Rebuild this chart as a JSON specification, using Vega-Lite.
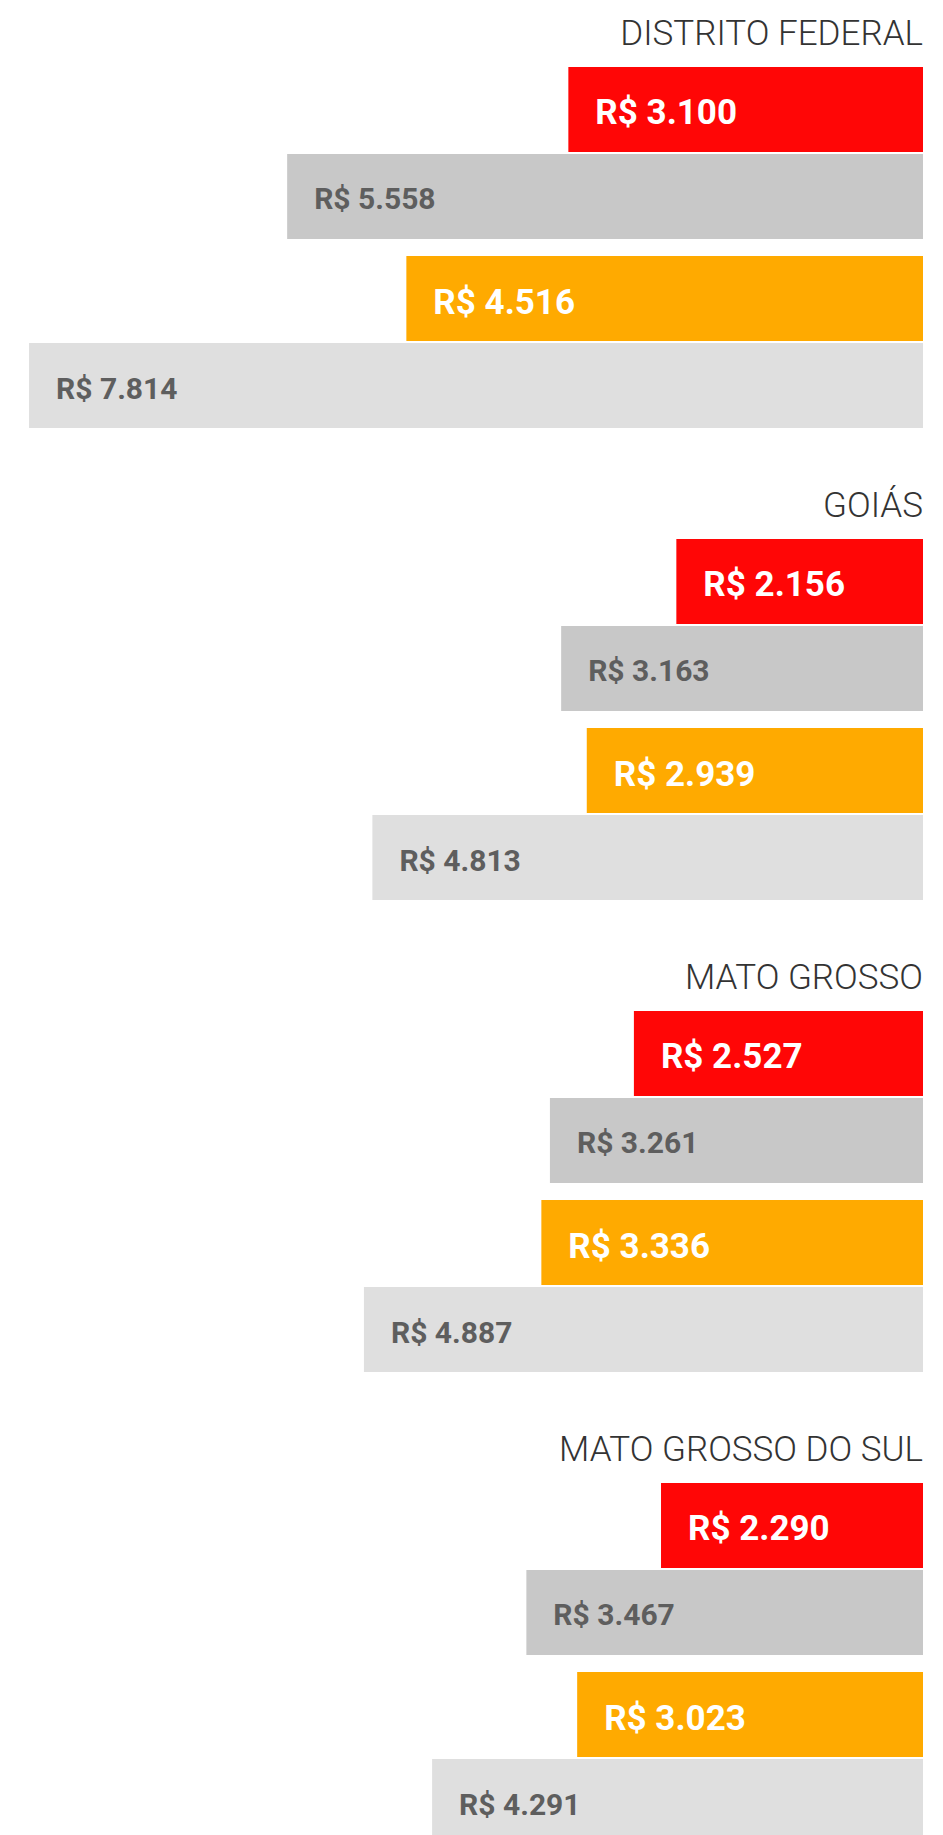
{
  "$schema": "https://vega.github.io/schema/vega-lite/v6.json",
  "background": "white",
  "padding": {"left": 0, "top": 17, "right": 0, "bottom": 0},
  "data": {"values": [
    {"estado": "DISTRITO FEDERAL", "grupo": "1", "tipo": "destaque", "serie": "s1", "valor": 3100},
    {"estado": "DISTRITO FEDERAL", "grupo": "1", "tipo": "referencia", "serie": "s2", "valor": 5558},
    {"estado": "DISTRITO FEDERAL", "grupo": "2", "tipo": "destaque", "serie": "s3", "valor": 4516},
    {"estado": "DISTRITO FEDERAL", "grupo": "2", "tipo": "referencia", "serie": "s4", "valor": 7814},
    {"estado": "GOIÁS", "grupo": "1", "tipo": "destaque", "serie": "s1", "valor": 2156},
    {"estado": "GOIÁS", "grupo": "1", "tipo": "referencia", "serie": "s2", "valor": 3163},
    {"estado": "GOIÁS", "grupo": "2", "tipo": "destaque", "serie": "s3", "valor": 2939},
    {"estado": "GOIÁS", "grupo": "2", "tipo": "referencia", "serie": "s4", "valor": 4813},
    {"estado": "MATO GROSSO", "grupo": "1", "tipo": "destaque", "serie": "s1", "valor": 2527},
    {"estado": "MATO GROSSO", "grupo": "1", "tipo": "referencia", "serie": "s2", "valor": 3261},
    {"estado": "MATO GROSSO", "grupo": "2", "tipo": "destaque", "serie": "s3", "valor": 3336},
    {"estado": "MATO GROSSO", "grupo": "2", "tipo": "referencia", "serie": "s4", "valor": 4887},
    {"estado": "MATO GROSSO DO SUL", "grupo": "1", "tipo": "destaque", "serie": "s1", "valor": 2290},
    {"estado": "MATO GROSSO DO SUL", "grupo": "1", "tipo": "referencia", "serie": "s2", "valor": 3467},
    {"estado": "MATO GROSSO DO SUL", "grupo": "2", "tipo": "destaque", "serie": "s3", "valor": 3023},
    {"estado": "MATO GROSSO DO SUL", "grupo": "2", "tipo": "referencia", "serie": "s4", "valor": 4291}
  ]},
  "facet": {
    "field": "estado", "type": "nominal",
    "sort": ["DISTRITO FEDERAL", "GOIÁS", "MATO GROSSO", "MATO GROSSO DO SUL"],
    "header": {
      "title": null, "labelOrient": "top", "labelAnchor": "end", "labelAlign": "right",
      "labelFont": "Roboto", "labelFontWeight": 300, "labelFontSize": 35, "labelColor": "#333333",
      "labelPadding": 15
    }
  },
  "columns": 1,
  "spacing": 61,
  "spec": {
    "width": 923,
    "height": 361,
    "encoding": {
      "y": {"field": "grupo", "type": "nominal", "axis": null, "scale": {"paddingInner": 0.09, "paddingOuter": 0}},
      "yOffset": {"field": "tipo", "type": "nominal", "scale": {"paddingInner": 0.023, "paddingOuter": 0}},
      "x": {"field": "valor", "type": "quantitative", "axis": null, "scale": {"domain": [0, 8068], "reverse": true, "nice": false, "zero": true}}
    },
    "layer": [
      {
        "mark": {"type": "bar"},
        "encoding": {
          "color": {"field": "serie", "type": "nominal", "legend": null,
            "scale": {"domain": ["s1", "s2", "s3", "s4"], "range": ["#FF0606", "#C8C8C8", "#FFAA00", "#DFDFDF"]}}
        }
      },
      {
        "mark": {"type": "text", "align": "left", "baseline": "middle", "dx": 27, "dy": 4, "font": "Roboto", "fontWeight": "bold"},
        "encoding": {
          "text": {"field": "valor", "type": "quantitative", "format": "$,.0f"},
          "color": {"condition": {"test": "datum.tipo === 'destaque'", "value": "#FFFFFF"}, "value": "#5E5E5E"},
          "size": {"condition": {"test": "datum.tipo === 'destaque'", "value": 35}, "value": 30}
        }
      }
    ]
  },
  "config": {
    "view": {"stroke": null},
    "locale": {
      "number": {"decimal": ",", "thousands": ".", "grouping": [3], "currency": ["R$ ", ""]}
    }
  }
}
